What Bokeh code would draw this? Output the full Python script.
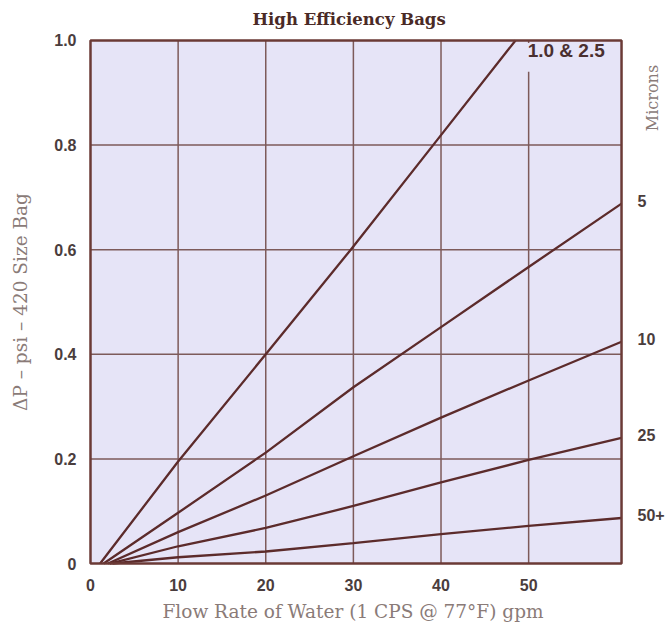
from bokeh.plotting import figure
from bokeh.models import Range1d, FixedTicker, Label, BoxAnnotation, Title
from bokeh.core.properties import value
from bokeh.embed import file_html
from bokeh.resources import INLINE
import math

# ---- data ----
flow_1_25 = [1.1, 10, 20, 29.7, 39.1, 48.5]
dp_1_25 = [0.0, 0.195, 0.40, 0.60, 0.80, 1.00]

flow_5 = [1.5, 10, 20, 30, 40, 50, 60.6]
dp_5 = [0.0, 0.097, 0.212, 0.337, 0.452, 0.567, 0.688]

flow_10 = [2.0, 10, 20, 30, 40, 50, 60.6]
dp_10 = [0.0, 0.060, 0.130, 0.205, 0.279, 0.350, 0.424]

flow_25 = [2.2, 10, 20, 30, 40, 50, 60.6]
dp_25 = [0.0, 0.033, 0.068, 0.110, 0.155, 0.198, 0.240]

flow_50 = [2.5, 10, 20, 30, 40, 50, 60.6]
dp_50 = [0.0, 0.012, 0.023, 0.039, 0.056, 0.072, 0.087]

x_ticks = [0, 10, 20, 30, 40, 50]
y_ticks = [0, 0.2, 0.4, 0.6, 0.8, 1.0]
y_tick_labels = ["0", "0.2", "0.4", "0.6", "0.8", "1.0"]
micron_labels = ["5", "10", "25", "50+"]
top_label = "1.0 & 2.5"
x_max = 60.6
y_max = 1.0

BG = "#e6e4f7"
LINE = "#5c2b2b"
GRID = "#7d5a5a"
BORDER = "#6b3a36"
TXT = "#4a3d3d"
SOFT = "#8a7b78"
SERIF = "DejaVu Serif"
SANS = "Liberation Sans"

# frame reaches to the right edge so that the right-hand labels can be drawn in it
p = figure(width=668, height=628, frame_width=580, frame_height=527,
           x_range=Range1d(-0.228, 65.96), y_range=Range1d(-0.0038, 1.0038),
           output_backend="svg", toolbar_location=None,
           min_border_left=88, min_border_right=0, min_border_top=38, min_border_bottom=0,
           background_fill_color="white", border_fill_color="white")
p.outline_line_color = None
p.grid.visible = False

p.title.text = "High Efficiency Bags"
p.title.align = "left"
p.title.offset = 164
p.title.vertical_align = "top"
p.title.standoff = 16
p.title.text_font = SERIF
p.title.text_font_size = "16.5px"
p.title.text_font_style = "bold"
p.title.text_color = "#4a2a26"

# axes
xa = p.xaxis[0]
xa.ticker = FixedTicker(ticks=x_ticks)
xa.axis_line_color = None
xa.major_tick_line_color = None
xa.minor_tick_line_color = None
xa.major_tick_out = 0
xa.minor_tick_out = 0
xa.major_label_standoff = 13
xa.major_label_text_font = SANS
xa.major_label_text_font_style = "bold"
xa.major_label_text_font_size = "16px"
xa.major_label_text_color = TXT

p.add_layout(Title(text="Flow Rate of Water (1 CPS @ 77°F) gpm", align="left", offset=74,
                   vertical_align="bottom", standoff=11, text_font=SERIF,
                   text_font_size="18.5px", text_font_style="normal", text_color=SOFT), "below")

ya = p.yaxis[0]
ya.ticker = FixedTicker(ticks=y_ticks)
ya.axis_line_color = None
ya.major_tick_line_color = None
ya.minor_tick_line_color = None
ya.major_tick_out = 0
ya.minor_tick_out = 0
ya.major_label_standoff = 12
ya.major_label_overrides = {v: t for v, t in zip(y_ticks, y_tick_labels)}
ya.major_label_text_font = SANS
ya.major_label_text_font_style = "bold"
ya.major_label_text_font_size = "16px"
ya.major_label_text_color = TXT
ya.axis_label = "ΔP – psi – 420 Size Bag"
ya.axis_label_text_font = SERIF
ya.axis_label_text_font_style = "normal"
ya.axis_label_text_font_size = "18.5px"
ya.axis_label_text_color = SOFT
ya.axis_label_standoff = 20

# plot area background
p.add_layout(BoxAnnotation(left=0, right=x_max, bottom=0, top=y_max, fill_color=BG,
                           fill_alpha=1.0, line_alpha=0.0, level="underlay"))

# grid lines from the tick lists
gx = x_ticks[1:]
p.segment(x0=gx, y0=[0] * len(gx), x1=gx, y1=[y_max] * len(gx),
          line_color=GRID, line_width=1.5)
gy = y_ticks[1:-1]
p.segment(x0=[0] * len(gy), y0=gy, x1=[x_max] * len(gy), y1=gy,
          line_color=GRID, line_width=1.5)

# curves
for fx, fy in [(flow_1_25, dp_1_25), (flow_5, dp_5), (flow_10, dp_10),
               (flow_25, dp_25), (flow_50, dp_50)]:
    p.line(fx, fy, line_color=LINE, line_width=2.3)

# mask the grid line behind the top label
p.add_layout(BoxAnnotation(left=49.0, right=57.0, bottom=0.94, top=0.995,
                           fill_color=BG, fill_alpha=1.0, line_alpha=0.0))

# plot area border
p.add_layout(BoxAnnotation(left=0, right=x_max, bottom=0, top=y_max, fill_alpha=0.0,
                           line_color=BORDER, line_width=2.5, line_alpha=1.0))

p.add_layout(Label(x=50, y=y_max, x_offset=-1, y_offset=0, text=top_label,
                   text_align="left", text_baseline="top",
                   text_font=SANS, text_font_style="bold", text_font_size="19px",
                   text_color="#4a2f2f"))

# micron labels at the right end of each curve
end_x = [flow_5[-1], flow_10[-1], flow_25[-1], flow_50[-1]]
end_y = [dp_5[-1], dp_10[-1], dp_25[-1], dp_50[-1]]
p.text(x=end_x, y=end_y, text=micron_labels, x_offset=16, y_offset=-3,
       text_align="left", text_baseline="middle", text_font=value(SANS),
       text_font_style="bold", text_font_size="16px", text_color=TXT)

p.add_layout(Label(x=x_max, y=0.89, x_offset=31, text="Microns", angle=math.pi / 2,
                   text_align="center", text_baseline="middle",
                   text_font=SERIF, text_font_size="16px", text_color=SOFT))

open("out.html", "w").write(file_html(p, INLINE))
